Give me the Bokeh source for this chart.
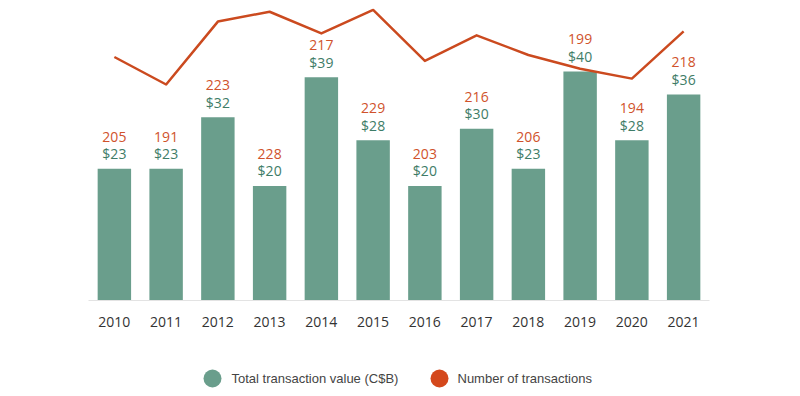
from bokeh.plotting import figure
from bokeh.models import ColumnDataSource, Range1d, FactorRange
from bokeh.layouts import column
from bokeh.core.properties import value
from bokeh.embed import file_html
from bokeh.resources import INLINE

years = ["2010", "2011", "2012", "2013", "2014", "2015",
         "2016", "2017", "2018", "2019", "2020", "2021"]
total_value = [23, 23, 32, 20, 39, 28, 20, 30, 23, 40, 28, 36]
num_transactions = [205, 191, 223, 228, 217, 229, 203, 216, 206, 199, 194, 218]
value_labels = ["$" + str(v) for v in total_value]
count_labels = [str(n) for n in num_transactions]
series_names = ["Total transaction value (C$B)", "Number of transactions"]

GREEN = "#6a9e8c"
GREEN_TEXT = "#3e7c67"
ORANGE = "#cb4a1f"
ORANGE_TEXT = "#d0522b"
LEGEND_ORANGE = "#d4481c"

BORDER_L, BORDER_R, FIG_W = 88, 91, 800

src = ColumnDataSource(dict(
    year=years, total=total_value, count=num_transactions,
    vlab=value_labels, clab=count_labels,
))

p = figure(
    x_range=FactorRange(*years, range_padding=0),
    y_range=Range1d(0, 51.0),
    width=FIG_W, height=346,
    output_backend="svg", toolbar_location=None,
    min_border_left=BORDER_L, min_border_right=BORDER_R,
    min_border_top=8, min_border_bottom=46,
)
p.extra_y_ranges = {"n": Range1d(81.13, 229.66)}

p.vbar(x="year", top="total", width=0.646, source=src,
       fill_color=GREEN, line_color=None)
p.line(x="year", y="count", source=src, y_range_name="n",
       line_color=ORANGE, line_width=2.5, line_join="round")

p.text(x="year", y="total", text="vlab", source=src,
       y_offset=-15, text_align="center", text_baseline="middle",
       text_font=value("Open Sans"), text_font_size="14px",
       text_color=GREEN_TEXT)
p.text(x="year", y="total", text="clab", source=src,
       y_offset=-32, text_align="center", text_baseline="middle",
       text_font=value("Open Sans"), text_font_size="14px",
       text_color=ORANGE_TEXT)

p.yaxis.visible = False
p.xgrid.grid_line_color = None
p.ygrid.grid_line_color = None
p.outline_line_color = None
p.background_fill_color = "white"
p.border_fill_color = "white"

xa = p.xaxis[0]
xa.axis_line_color = "#e3e3e3"
xa.axis_line_width = 1
xa.major_tick_line_color = None
xa.minor_tick_line_color = None
xa.major_tick_out = 0
xa.major_tick_in = 0
xa.major_label_standoff = 16
xa.major_label_text_font = "Open Sans"
xa.major_label_text_font_size = "14px"
xa.major_label_text_color = "#333333"

# legend strip (pixel-space coordinates for the key layout)
key_marker_x = [212, 439]
key_label_x = [231, 457]
key_y = [18, 18]
key_colors = [GREEN, LEGEND_ORANGE]

lg = figure(
    width=FIG_W, height=50,
    x_range=Range1d(BORDER_L, FIG_W - BORDER_R), y_range=Range1d(0, 50),
    output_backend="svg", toolbar_location=None,
    x_axis_location=None, y_axis_location=None,
    min_border_left=BORDER_L, min_border_right=BORDER_R,
    min_border_top=0, min_border_bottom=0,
)
lg.xgrid.grid_line_color = None
lg.ygrid.grid_line_color = None
lg.outline_line_color = None
lg.border_fill_color = "white"
key_src = ColumnDataSource(dict(mx=key_marker_x, lx=key_label_x, y=key_y,
                                c=key_colors, t=series_names))
lg.scatter(x="mx", y="y", source=key_src, marker="circle", size=18,
           fill_color="c", line_color=None)
lg.text(x="lx", y="y", text="t", source=key_src,
        text_align="left", text_baseline="middle",
        text_font=value("Liberation Sans"), text_font_size="13px",
        text_color="#444444")

layout = column(p, lg, spacing=0)
open("out.html", "w").write(file_html(layout, INLINE))
